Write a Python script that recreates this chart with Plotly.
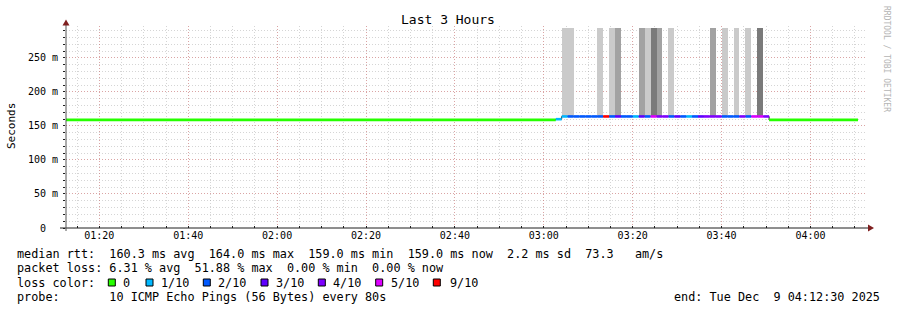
import plotly.graph_objects as go
from datetime import datetime, timedelta

DAY = "2025-12-09 "
T_START = "01:12:30"
T_END = "04:12:30"
Y_TOP = 0.297  # seconds

X_TICKS = ["01:20", "01:40", "02:00", "02:20", "02:40", "03:00", "03:20", "03:40", "04:00"]
Y_TICKS = [0.0, 0.05, 0.10, 0.15, 0.20, 0.25]
Y_TICK_TEXT = ["0\u00a0\u00a0", "50 m", "100 m", "150 m", "200 m", "250 m"]

# steady periods with no loss
STEADY_START = ["01:12:30", "03:50:42"]
STEADY_END = ["03:02:42", "04:10:42"]
STEADY_RTT = [0.159, 0.159]
STEADY_LOSS = [0, 0]

# disturbed period, one value per 80 s step
STEP_S = 80
INC_START = "03:02:42"
INC_RTT = [0.160, 0.164, 0.164, 0.164, 0.164, 0.164, 0.164, 0.164, 0.164, 0.164,
           0.164, 0.164, 0.164, 0.164, 0.164, 0.164, 0.164, 0.164, 0.164, 0.164,
           0.164, 0.164, 0.164, 0.164, 0.164, 0.164, 0.164, 0.164, 0.164, 0.164,
           0.164, 0.164, 0.164, 0.164, 0.164, 0.164]
INC_LOSS = [1, 1, 2, 2, 2, 2, 2, 2, 9, 2,
            3, 2, 2, 1, 3, 2, 5, 4, 4, 2,
            3, 2, 1, 2, 3, 4, 4, 4, 2, 2,
            2, 4, 2, 5, 5, 4]
# smoke density level of the step (0 none, 1 light, 2 medium, 3 dark)
INC_SMOKE = [0, 1, 1, 0, 0, 0, 0, 1, 0, 1,
             2, 0, 0, 0, 2, 1, 3, 2, 0, 1,
             0, 0, 0, 0, 0, 0, 2, 0, 1, 0,
             1, 0, 1, 0, 3, 0]
SMOKE_TOP = 0.294

LOSS_KEYS = [0, 1, 2, 3, 4, 5, 9]
LOSS_LABELS = ["0", "1/10", "2/10", "3/10", "4/10", "5/10", "9/10"]
LOSS_COLORS = ["#26ff00", "#00b8ff", "#0059ff", "#5e00ff", "#7e00ff", "#dd00ff", "#ff0000"]
SMOKE_COLORS = {1: "#cacaca", 2: "#a2a2a2", 3: "#7a7a7a"}

ROW1 = "median rtt:  160.3 ms avg  164.0 ms max  159.0 ms min  159.0 ms now  2.2 ms sd  73.3   am/s"
ROW2 = "packet loss: 6.31 % avg  51.88 % max  0.00 % min  0.00 % now"
ROW3 = "loss color:"
ROW4 = "probe:       10 ICMP Echo Pings (56 Bytes) every 80s"
END_TEXT = "end: Tue Dec  9 04:12:30 2025"
TITLE = "Last 3 Hours"
Y_TITLE = "Seconds"
WATERMARK = "RRDTOOL / TOBI OETIKER"

# ---------------------------------------------------------------
W, H = 897, 310
L, R, T, B = 66, 31, 26, 82
PW, PH = W - L - R, H - T - B
MONO = "DejaVu Sans Mono"


def ts(s):
    return datetime.strptime(DAY + s, "%Y-%m-%d %H:%M:%S")


def px(x):
    return (x - L) / PW


def py(y):
    return (T + PH - y) / PH


color_of = dict(zip(LOSS_KEYS, LOSS_COLORS))

# build segments
segments = []  # (t0, t1, rtt, loss, smoke)
for s, e, v, l in zip(STEADY_START, STEADY_END, STEADY_RTT, STEADY_LOSS):
    segments.append((ts(s), ts(e), v, l, 0))
t0 = ts(INC_START)
for k, (v, l, sm) in enumerate(zip(INC_RTT, INC_LOSS, INC_SMOKE)):
    a = t0 + timedelta(seconds=STEP_S * k)
    segments.append((a, a + timedelta(seconds=STEP_S), v, l, sm))
segments.sort(key=lambda r: r[0])

fig = go.Figure()

# smoke
bx, bbase, by, bc = [], [], [], []
for a, b, v, l, sm in segments:
    if sm:
        bx.append(a + (b - a) / 2)
        bbase.append(v)
        by.append(SMOKE_TOP - v)
        bc.append(SMOKE_COLORS[sm])
fig.add_trace(go.Bar(x=bx, y=by, base=bbase, width=STEP_S * 1000,
                     marker=dict(color=bc, line=dict(width=0)), hoverinfo="skip",
                     showlegend=False))

# dark step connector
cx, cy = [], []
for a, b, v, l, sm in segments:
    cx += [a, b]
    cy += [v, v]
fig.add_trace(go.Scatter(x=cx, y=cy, mode="lines", line=dict(color="#202020", width=1, shape="hv"),
                         hoverinfo="skip", showlegend=False))

# colored median segments by loss
for key in LOSS_KEYS:
    xs, ys = [], []
    for a, b, v, l, sm in segments:
        if l == key:
            xs += [a, b, None]
            ys += [v, v, None]
    if xs:
        fig.add_trace(go.Scatter(x=xs, y=ys, mode="lines",
                                 line=dict(color=color_of[key], width=2.6),
                                 hoverinfo="skip", showlegend=False))

grid_minor = "rgba(150,150,150,0.4)"
grid_major = "rgba(225,90,90,0.4)"

fig.update_layout(
    width=W, height=H, margin=dict(l=L, r=R, t=T, b=B),
    paper_bgcolor="white", plot_bgcolor="white",
    bargap=0, showlegend=False,
    font=dict(family=MONO, size=10, color="black"),
    xaxis=dict(type="date", range=[ts(T_START), ts(T_END)],
               tickvals=[ts(t + ":00") for t in X_TICKS], ticktext=X_TICKS,
               showgrid=True, gridcolor=grid_major, griddash="1px,2px", gridwidth=1,
               ticks="inside", ticklen=2, tickcolor="#1f1f1f",
               minor=dict(dtick=300000, tick0=ts("01:00:00"), showgrid=True,
                          gridcolor=grid_minor, griddash="1px,2px", ticks="inside",
                          ticklen=2, tickcolor="#1f1f1f"),
               zeroline=False, showline=False, ticklabelstandoff=0,
               tickfont=dict(family=MONO, size=10)),
    yaxis=dict(range=[0, Y_TOP], tickvals=Y_TICKS, ticktext=Y_TICK_TEXT,
               showgrid=True, gridcolor=grid_major, griddash="1px,2px", gridwidth=1,
               ticks="outside", ticklen=2, tickcolor="#1f1f1f",
               minor=dict(dtick=0.01, tick0=0, showgrid=True, gridcolor=grid_minor,
                          griddash="1px,2px", ticks="outside", ticklen=2, tickcolor="#1f1f1f"),
               zeroline=False, showline=False, ticklabelstandoff=3,
               tickfont=dict(family=MONO, size=10)),
)

shapes = []
# axes
shapes.append(dict(type="line", xref="paper", yref="paper", x0=px(60), x1=px(869), y0=0, y1=0,
                   line=dict(color="#1f1f1f", width=1)))
shapes.append(dict(type="line", xref="paper", yref="paper", x0=0, x1=0, y0=py(231), y1=py(24),
                   line=dict(color="#555555", width=1)))
# arrows
shapes.append(dict(type="path", xref="paper", yref="paper",
                   path=f"M {px(62.5)} {py(25.5)} L {px(69.5)} {py(25.5)} L {px(66)} {py(19.5)} Z",
                   fillcolor="#7f1f1f", line=dict(width=0)))
shapes.append(dict(type="path", xref="paper", yref="paper",
                   path=f"M {px(868)} {py(224.5)} L {px(868)} {py(231.5)} L {px(874)} {py(228)} Z",
                   fillcolor="#7f1f1f", line=dict(width=0)))

annotations = []


def text(x, y, s, size=11.8, anchor="left", color="black", angle=0, family=MONO):
    annotations.append(dict(xref="paper", yref="paper", x=px(x), y=py(y), text=s.replace(" ", "\u00a0"),
                            showarrow=False, xanchor=anchor, yanchor="middle", borderpad=0,
                            textangle=angle, font=dict(family=family, size=size, color=color)))


text(448, 19.5, TITLE, size=13, anchor="center")
text(11, 126, Y_TITLE, size=11, anchor="center", angle=-90)
text(887, 59, WATERMARK, size=8, anchor="center", angle=90, color="#b4b4b4")
text(16, 254.3, ROW1)
text(16, 268.3, ROW2)
text(16, 282.7, ROW3)
text(16, 296.7, ROW4)
text(881, 296.7, END_TEXT, anchor="right")

box_x = [108.3, 146, 203.3, 261, 318.3, 375.7, 433.3]
lab_x = [123.3, 160.7, 218.3, 276, 333.3, 390.7, 450]
for bxp, lxp, lab, col in zip(box_x, lab_x, LOSS_LABELS, LOSS_COLORS):
    shapes.append(dict(type="rect", xref="paper", yref="paper", x0=px(bxp), x1=px(bxp + 7),
                       y0=py(286), y1=py(279), fillcolor=col, line=dict(color="black", width=1)))
    text(lxp - 1, 282.7, lab)

fig.update_layout(shapes=shapes, annotations=annotations)
fig.write_html("out.html")
